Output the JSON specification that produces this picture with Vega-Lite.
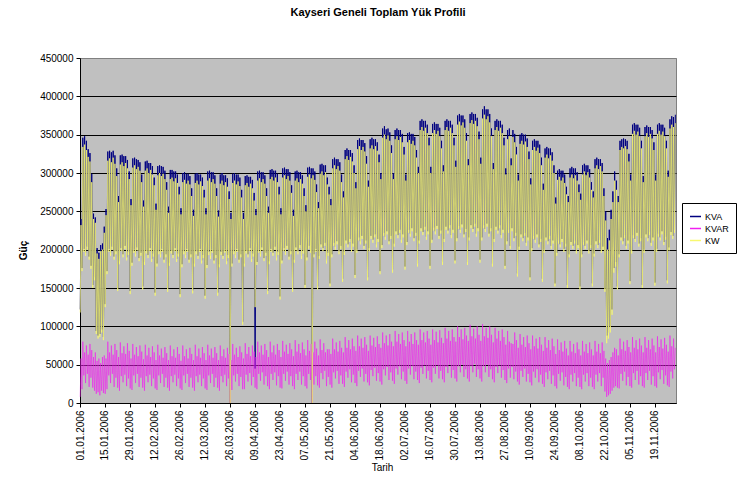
{
"$schema":"https://vega.github.io/schema/vega-lite/v6.json",
"width":596,"height":345,"autosize":"none",
"padding":{"left":80,"top":58,"right":74,"bottom":85},
"background":"white",
"config":{"view":{"fill":"#C0C0C0","stroke":"#808080","strokeWidth":1},"font":"Liberation Sans"},
"title":{"text":"Kayseri Geneli Toplam Yük Profili","fontSize":11,"fontWeight":"bold","font":"Liberation Sans","color":"black","offset":35,"anchor":"middle"},
"data":{"values":[
{"t":"2006-01-01 03:00","a":122000,"r":8000,"w":118000},{"t":"2006-01-01 14:00","a":240000,"r":58000,"w":232000},
{"t":"2006-01-02 03:00","a":176000,"r":18000,"w":172000},{"t":"2006-01-02 14:00","a":346000,"r":80000,"w":334000},
{"t":"2006-01-03 03:00","a":201000,"r":36000,"w":197000},{"t":"2006-01-03 14:00","a":348000,"r":66000,"w":337000},
{"t":"2006-01-04 03:00","a":196000,"r":26000,"w":192000},{"t":"2006-01-04 14:00","a":342000,"r":75000,"w":330000},
{"t":"2006-01-05 03:00","a":204000,"r":38000,"w":200000},{"t":"2006-01-05 14:00","a":331000,"r":63000,"w":321000},
{"t":"2006-01-06 03:00","a":191000,"r":21000,"w":187000},{"t":"2006-01-06 14:00","a":326000,"r":77000,"w":315000},
{"t":"2006-01-07 03:00","a":179000,"r":33000,"w":175000},{"t":"2006-01-07 14:00","a":299000,"r":69000,"w":288000},
{"t":"2006-01-08 03:00","a":154000,"r":20000,"w":150000},{"t":"2006-01-08 14:00","a":247000,"r":60000,"w":240000},
{"t":"2006-01-09 03:00","a":164000,"r":16000,"w":160000},{"t":"2006-01-09 14:00","a":242000,"r":66000,"w":235000},
{"t":"2006-01-10 03:00","a":94000,"r":12000,"w":90000},{"t":"2006-01-10 14:00","a":202000,"r":55000,"w":195000},
{"t":"2006-01-11 03:00","a":88000,"r":14000,"w":84000},{"t":"2006-01-11 14:00","a":196000,"r":58000,"w":188000},
{"t":"2006-01-12 03:00","a":90000,"r":10000,"w":86000},{"t":"2006-01-12 14:00","a":206000,"r":52000,"w":198000},
{"t":"2006-01-13 03:00","a":96000,"r":16000,"w":92000},{"t":"2006-01-13 14:00","a":208000,"r":60000,"w":200000},
{"t":"2006-01-14 03:00","a":86000,"r":13000,"w":82000},{"t":"2006-01-14 14:00","a":230000,"r":62000,"w":222000},
{"t":"2006-01-15 03:00","a":129000,"r":12000,"w":125000},{"t":"2006-01-15 14:00","a":253000,"r":58000,"w":245000},
{"t":"2006-01-16 03:00","a":172000,"r":18000,"w":168000},{"t":"2006-01-16 14:00","a":328000,"r":80000,"w":316000},
{"t":"2006-01-17 03:00","a":201000,"r":36000,"w":197000},{"t":"2006-01-17 14:00","a":329000,"r":66000,"w":319000},
{"t":"2006-01-18 03:00","a":196000,"r":26000,"w":192000},{"t":"2006-01-18 14:00","a":327000,"r":75000,"w":314000},
{"t":"2006-01-19 03:00","a":204000,"r":38000,"w":200000},{"t":"2006-01-19 14:00","a":329000,"r":63000,"w":320000},
{"t":"2006-01-20 03:00","a":191000,"r":21000,"w":187000},{"t":"2006-01-20 14:00","a":323000,"r":77000,"w":312000},
{"t":"2006-01-21 03:00","a":198000,"r":33000,"w":194000},{"t":"2006-01-21 14:00","a":306000,"r":69000,"w":296000},
{"t":"2006-01-22 03:00","a":150000,"r":20000,"w":146000},{"t":"2006-01-22 14:00","a":270000,"r":60000,"w":262000},
{"t":"2006-01-23 03:00","a":185000,"r":16000,"w":181000},{"t":"2006-01-23 14:00","a":323000,"r":79000,"w":311000},
{"t":"2006-01-24 03:00","a":202000,"r":35000,"w":198000},{"t":"2006-01-24 14:00","a":324000,"r":65000,"w":314000},
{"t":"2006-01-25 03:00","a":194000,"r":27000,"w":190000},{"t":"2006-01-25 14:00","a":322000,"r":74000,"w":309000},
{"t":"2006-01-26 03:00","a":205000,"r":37000,"w":201000},{"t":"2006-01-26 14:00","a":322000,"r":64000,"w":313000},
{"t":"2006-01-27 03:00","a":190000,"r":22000,"w":186000},{"t":"2006-01-27 14:00","a":317000,"r":78000,"w":306000},
{"t":"2006-01-28 03:00","a":197000,"r":32000,"w":193000},{"t":"2006-01-28 14:00","a":302000,"r":68000,"w":292000},
{"t":"2006-01-29 03:00","a":146000,"r":19000,"w":142000},{"t":"2006-01-29 14:00","a":266000,"r":58000,"w":258000},
{"t":"2006-01-30 03:00","a":183000,"r":17000,"w":179000},{"t":"2006-01-30 14:00","a":319000,"r":77000,"w":307000},
{"t":"2006-01-31 03:00","a":200000,"r":36000,"w":196000},{"t":"2006-01-31 14:00","a":320000,"r":63000,"w":310000},
{"t":"2006-02-01 03:00","a":195000,"r":26000,"w":191000},{"t":"2006-02-01 14:00","a":318000,"r":73000,"w":305000},
{"t":"2006-02-02 03:00","a":203000,"r":38000,"w":199000},{"t":"2006-02-02 14:00","a":317000,"r":61000,"w":308000},
{"t":"2006-02-03 03:00","a":189000,"r":21000,"w":185000},{"t":"2006-02-03 14:00","a":314000,"r":75000,"w":303000},
{"t":"2006-02-04 03:00","a":196000,"r":33000,"w":192000},{"t":"2006-02-04 14:00","a":298000,"r":67000,"w":288000},
{"t":"2006-02-05 03:00","a":152000,"r":20000,"w":148000},{"t":"2006-02-05 14:00","a":264000,"r":57000,"w":256000},
{"t":"2006-02-06 03:00","a":184000,"r":16000,"w":180000},{"t":"2006-02-06 14:00","a":315000,"r":76000,"w":303000},
{"t":"2006-02-07 03:00","a":199000,"r":35000,"w":195000},{"t":"2006-02-07 14:00","a":316000,"r":62000,"w":306000},
{"t":"2006-02-08 03:00","a":193000,"r":27000,"w":189000},{"t":"2006-02-08 14:00","a":313000,"r":72000,"w":300000},
{"t":"2006-02-09 03:00","a":202000,"r":37000,"w":198000},{"t":"2006-02-09 14:00","a":313000,"r":60000,"w":304000},
{"t":"2006-02-10 03:00","a":188000,"r":22000,"w":184000},{"t":"2006-02-10 14:00","a":309000,"r":74000,"w":298000},
{"t":"2006-02-11 03:00","a":195000,"r":32000,"w":191000},{"t":"2006-02-11 14:00","a":294000,"r":66000,"w":284000},
{"t":"2006-02-12 03:00","a":144000,"r":19000,"w":140000},{"t":"2006-02-12 14:00","a":260000,"r":56000,"w":252000},
{"t":"2006-02-13 03:00","a":182000,"r":17000,"w":178000},{"t":"2006-02-13 14:00","a":309000,"r":76000,"w":297000},
{"t":"2006-02-14 03:00","a":198000,"r":36000,"w":194000},{"t":"2006-02-14 14:00","a":310000,"r":62000,"w":300000},
{"t":"2006-02-15 03:00","a":194000,"r":26000,"w":190000},{"t":"2006-02-15 14:00","a":309000,"r":71000,"w":296000},
{"t":"2006-02-16 03:00","a":201000,"r":38000,"w":197000},{"t":"2006-02-16 14:00","a":308000,"r":59000,"w":299000},
{"t":"2006-02-17 03:00","a":187000,"r":21000,"w":183000},{"t":"2006-02-17 14:00","a":303000,"r":73000,"w":292000},
{"t":"2006-02-18 03:00","a":194000,"r":33000,"w":190000},{"t":"2006-02-18 14:00","a":288000,"r":65000,"w":278000},
{"t":"2006-02-19 03:00","a":149000,"r":20000,"w":145000},{"t":"2006-02-19 14:00","a":256000,"r":56000,"w":248000},
{"t":"2006-02-20 03:00","a":183000,"r":16000,"w":179000},{"t":"2006-02-20 14:00","a":304000,"r":75000,"w":292000},
{"t":"2006-02-21 03:00","a":199000,"r":35000,"w":195000},{"t":"2006-02-21 14:00","a":304000,"r":61000,"w":294000},
{"t":"2006-02-22 03:00","a":193000,"r":27000,"w":189000},{"t":"2006-02-22 14:00","a":302000,"r":70000,"w":289000},
{"t":"2006-02-23 03:00","a":202000,"r":37000,"w":198000},{"t":"2006-02-23 14:00","a":302000,"r":59000,"w":293000},
{"t":"2006-02-24 03:00","a":188000,"r":22000,"w":184000},{"t":"2006-02-24 14:00","a":298000,"r":73000,"w":287000},
{"t":"2006-02-25 03:00","a":195000,"r":32000,"w":191000},{"t":"2006-02-25 14:00","a":282000,"r":64000,"w":272000},
{"t":"2006-02-26 03:00","a":142000,"r":19000,"w":138000},{"t":"2006-02-26 14:00","a":254000,"r":55000,"w":246000},
{"t":"2006-02-27 03:00","a":181000,"r":17000,"w":177000},{"t":"2006-02-27 14:00","a":300000,"r":75000,"w":288000},
{"t":"2006-02-28 03:00","a":198000,"r":36000,"w":194000},{"t":"2006-02-28 14:00","a":301000,"r":61000,"w":291000},
{"t":"2006-03-01 03:00","a":193000,"r":26000,"w":189000},{"t":"2006-03-01 14:00","a":299000,"r":70000,"w":286000},
{"t":"2006-03-02 03:00","a":201000,"r":38000,"w":197000},{"t":"2006-03-02 14:00","a":299000,"r":58000,"w":290000},
{"t":"2006-03-03 03:00","a":187000,"r":21000,"w":183000},{"t":"2006-03-03 14:00","a":296000,"r":72000,"w":285000},
{"t":"2006-03-04 03:00","a":194000,"r":33000,"w":190000},{"t":"2006-03-04 14:00","a":280000,"r":64000,"w":270000},
{"t":"2006-03-05 03:00","a":147000,"r":20000,"w":143000},{"t":"2006-03-05 14:00","a":252000,"r":56000,"w":244000},
{"t":"2006-03-06 03:00","a":182000,"r":16000,"w":178000},{"t":"2006-03-06 14:00","a":299000,"r":76000,"w":287000},
{"t":"2006-03-07 03:00","a":198000,"r":35000,"w":194000},{"t":"2006-03-07 14:00","a":300000,"r":61000,"w":290000},
{"t":"2006-03-08 03:00","a":192000,"r":27000,"w":188000},{"t":"2006-03-08 14:00","a":298000,"r":71000,"w":285000},
{"t":"2006-03-09 03:00","a":201000,"r":37000,"w":197000},{"t":"2006-03-09 14:00","a":298000,"r":59000,"w":289000},
{"t":"2006-03-10 03:00","a":186000,"r":22000,"w":182000},{"t":"2006-03-10 14:00","a":294000,"r":73000,"w":283000},
{"t":"2006-03-11 03:00","a":193000,"r":32000,"w":189000},{"t":"2006-03-11 14:00","a":278000,"r":65000,"w":268000},
{"t":"2006-03-12 03:00","a":140000,"r":19000,"w":136000},{"t":"2006-03-12 14:00","a":254000,"r":56000,"w":246000},
{"t":"2006-03-13 03:00","a":180000,"r":17000,"w":176000},{"t":"2006-03-13 14:00","a":302000,"r":76000,"w":290000},
{"t":"2006-03-14 03:00","a":197000,"r":36000,"w":193000},{"t":"2006-03-14 14:00","a":303000,"r":62000,"w":293000},
{"t":"2006-03-15 03:00","a":192000,"r":26000,"w":188000},{"t":"2006-03-15 14:00","a":301000,"r":71000,"w":288000},
{"t":"2006-03-16 03:00","a":200000,"r":38000,"w":196000},{"t":"2006-03-16 14:00","a":301000,"r":59000,"w":292000},
{"t":"2006-03-17 03:00","a":186000,"r":21000,"w":182000},{"t":"2006-03-17 14:00","a":297000,"r":73000,"w":286000},
{"t":"2006-03-18 03:00","a":193000,"r":33000,"w":189000},{"t":"2006-03-18 14:00","a":280000,"r":65000,"w":270000},
{"t":"2006-03-19 03:00","a":144000,"r":20000,"w":140000},{"t":"2006-03-19 14:00","a":251000,"r":56000,"w":243000},
{"t":"2006-03-20 03:00","a":181000,"r":16000,"w":177000},{"t":"2006-03-20 14:00","a":298000,"r":75000,"w":286000},
{"t":"2006-03-21 03:00","a":197000,"r":35000,"w":193000},{"t":"2006-03-21 14:00","a":300000,"r":61000,"w":290000},
{"t":"2006-03-22 03:00","a":192000,"r":27000,"w":188000},{"t":"2006-03-22 14:00","a":297000,"r":70000,"w":284000},
{"t":"2006-03-23 03:00","a":200000,"r":37000,"w":196000},{"t":"2006-03-23 14:00","a":297000,"r":59000,"w":288000},
{"t":"2006-03-24 03:00","a":185000,"r":22000,"w":181000},{"t":"2006-03-24 14:00","a":293000,"r":72000,"w":282000},
{"t":"2006-03-25 03:00","a":193000,"r":32000,"w":189000},{"t":"2006-03-25 14:00","a":276000,"r":64000,"w":266000},
{"t":"2006-03-26 03:00","a":0,"r":0,"w":0},{"t":"2006-03-26 14:00","a":248000,"r":56000,"w":240000},
{"t":"2006-03-27 03:00","a":182000,"r":17000,"w":178000},{"t":"2006-03-27 14:00","a":299000,"r":77000,"w":287000},
{"t":"2006-03-28 03:00","a":198000,"r":36000,"w":194000},{"t":"2006-03-28 14:00","a":300000,"r":63000,"w":290000},
{"t":"2006-03-29 03:00","a":193000,"r":28000,"w":189000},{"t":"2006-03-29 14:00","a":298000,"r":72000,"w":285000},
{"t":"2006-03-30 03:00","a":201000,"r":38000,"w":197000},{"t":"2006-03-30 14:00","a":298000,"r":60000,"w":289000},
{"t":"2006-03-31 03:00","a":187000,"r":22000,"w":183000},{"t":"2006-03-31 14:00","a":294000,"r":74000,"w":283000},
{"t":"2006-04-01 03:00","a":194000,"r":34000,"w":190000},{"t":"2006-04-01 14:00","a":278000,"r":66000,"w":268000},
{"t":"2006-04-02 03:00","a":106000,"r":18000,"w":102000},{"t":"2006-04-02 14:00","a":248000,"r":58000,"w":240000},
{"t":"2006-04-03 03:00","a":182000,"r":18000,"w":178000},{"t":"2006-04-03 14:00","a":296000,"r":78000,"w":284000},
{"t":"2006-04-04 03:00","a":199000,"r":37000,"w":195000},{"t":"2006-04-04 14:00","a":297000,"r":64000,"w":287000},
{"t":"2006-04-05 03:00","a":194000,"r":28000,"w":190000},{"t":"2006-04-05 14:00","a":295000,"r":73000,"w":282000},
{"t":"2006-04-06 03:00","a":202000,"r":39000,"w":198000},{"t":"2006-04-06 14:00","a":295000,"r":61000,"w":286000},
{"t":"2006-04-07 03:00","a":188000,"r":23000,"w":184000},{"t":"2006-04-07 14:00","a":291000,"r":75000,"w":280000},
{"t":"2006-04-08 03:00","a":195000,"r":34000,"w":191000},{"t":"2006-04-08 14:00","a":274000,"r":67000,"w":264000},
{"t":"2006-04-09 03:00","a":45000,"r":20000,"w":125000},{"t":"2006-04-09 14:00","a":253000,"r":60000,"w":245000},
{"t":"2006-04-10 03:00","a":184000,"r":18000,"w":180000},{"t":"2006-04-10 14:00","a":302000,"r":80000,"w":290000},
{"t":"2006-04-11 03:00","a":200000,"r":38000,"w":196000},{"t":"2006-04-11 14:00","a":303000,"r":66000,"w":293000},
{"t":"2006-04-12 03:00","a":195000,"r":29000,"w":191000},{"t":"2006-04-12 14:00","a":301000,"r":75000,"w":288000},
{"t":"2006-04-13 03:00","a":203000,"r":40000,"w":199000},{"t":"2006-04-13 14:00","a":301000,"r":63000,"w":292000},
{"t":"2006-04-14 03:00","a":189000,"r":24000,"w":185000},{"t":"2006-04-14 14:00","a":297000,"r":77000,"w":286000},
{"t":"2006-04-15 03:00","a":196000,"r":35000,"w":192000},{"t":"2006-04-15 14:00","a":280000,"r":69000,"w":270000},
{"t":"2006-04-16 03:00","a":146000,"r":22000,"w":142000},{"t":"2006-04-16 14:00","a":256000,"r":60000,"w":248000},
{"t":"2006-04-17 03:00","a":185000,"r":18000,"w":181000},{"t":"2006-04-17 14:00","a":304000,"r":80000,"w":292000},
{"t":"2006-04-18 03:00","a":201000,"r":38000,"w":197000},{"t":"2006-04-18 14:00","a":305000,"r":66000,"w":295000},
{"t":"2006-04-19 03:00","a":196000,"r":30000,"w":192000},{"t":"2006-04-19 14:00","a":303000,"r":75000,"w":290000},
{"t":"2006-04-20 03:00","a":204000,"r":40000,"w":200000},{"t":"2006-04-20 14:00","a":303000,"r":63000,"w":294000},
{"t":"2006-04-21 03:00","a":190000,"r":23000,"w":186000},{"t":"2006-04-21 14:00","a":299000,"r":77000,"w":288000},
{"t":"2006-04-22 03:00","a":197000,"r":35000,"w":193000},{"t":"2006-04-22 14:00","a":282000,"r":69000,"w":272000},
{"t":"2006-04-23 03:00","a":139000,"r":20000,"w":135000},{"t":"2006-04-23 14:00","a":254000,"r":60000,"w":246000},
{"t":"2006-04-24 03:00","a":186000,"r":19000,"w":182000},{"t":"2006-04-24 14:00","a":306000,"r":81000,"w":294000},
{"t":"2006-04-25 03:00","a":202000,"r":38000,"w":198000},{"t":"2006-04-25 14:00","a":307000,"r":67000,"w":297000},
{"t":"2006-04-26 03:00","a":197000,"r":29000,"w":193000},{"t":"2006-04-26 14:00","a":305000,"r":76000,"w":292000},
{"t":"2006-04-27 03:00","a":205000,"r":41000,"w":201000},{"t":"2006-04-27 14:00","a":305000,"r":64000,"w":296000},
{"t":"2006-04-28 03:00","a":191000,"r":24000,"w":187000},{"t":"2006-04-28 14:00","a":301000,"r":78000,"w":290000},
{"t":"2006-04-29 03:00","a":198000,"r":35000,"w":194000},{"t":"2006-04-29 14:00","a":284000,"r":70000,"w":274000},
{"t":"2006-04-30 03:00","a":149000,"r":22000,"w":145000},{"t":"2006-04-30 14:00","a":252000,"r":61000,"w":244000},
{"t":"2006-05-01 03:00","a":187000,"r":18000,"w":183000},{"t":"2006-05-01 14:00","a":302000,"r":82000,"w":290000},
{"t":"2006-05-02 03:00","a":203000,"r":38000,"w":199000},{"t":"2006-05-02 14:00","a":303000,"r":67000,"w":293000},
{"t":"2006-05-03 03:00","a":198000,"r":30000,"w":194000},{"t":"2006-05-03 14:00","a":301000,"r":77000,"w":288000},
{"t":"2006-05-04 03:00","a":206000,"r":41000,"w":202000},{"t":"2006-05-04 14:00","a":301000,"r":65000,"w":292000},
{"t":"2006-05-05 03:00","a":192000,"r":24000,"w":188000},{"t":"2006-05-05 14:00","a":297000,"r":79000,"w":286000},
{"t":"2006-05-06 03:00","a":199000,"r":35000,"w":195000},{"t":"2006-05-06 14:00","a":280000,"r":70000,"w":270000},
{"t":"2006-05-07 03:00","a":154000,"r":22000,"w":150000},{"t":"2006-05-07 14:00","a":258000,"r":62000,"w":250000},
{"t":"2006-05-08 03:00","a":190000,"r":19000,"w":186000},{"t":"2006-05-08 14:00","a":307000,"r":82000,"w":295000},
{"t":"2006-05-09 03:00","a":205000,"r":38000,"w":201000},{"t":"2006-05-09 14:00","a":308000,"r":68000,"w":298000},
{"t":"2006-05-10 03:00","a":200000,"r":30000,"w":196000},{"t":"2006-05-10 14:00","a":306000,"r":77000,"w":293000},
{"t":"2006-05-11 03:00","a":0,"r":0,"w":0},{"t":"2006-05-11 14:00","a":306000,"r":66000,"w":297000},
{"t":"2006-05-12 03:00","a":194000,"r":24000,"w":190000},{"t":"2006-05-12 14:00","a":302000,"r":80000,"w":291000},
{"t":"2006-05-13 03:00","a":201000,"r":35000,"w":197000},{"t":"2006-05-13 14:00","a":285000,"r":71000,"w":275000},
{"t":"2006-05-14 03:00","a":152000,"r":23000,"w":148000},{"t":"2006-05-14 14:00","a":262000,"r":62000,"w":254000},
{"t":"2006-05-15 03:00","a":192000,"r":20000,"w":188000},{"t":"2006-05-15 14:00","a":311000,"r":83000,"w":299000},
{"t":"2006-05-16 03:00","a":207000,"r":39000,"w":203000},{"t":"2006-05-16 14:00","a":312000,"r":69000,"w":302000},
{"t":"2006-05-17 03:00","a":202000,"r":31000,"w":198000},{"t":"2006-05-17 14:00","a":310000,"r":78000,"w":297000},
{"t":"2006-05-18 03:00","a":209000,"r":42000,"w":205000},{"t":"2006-05-18 14:00","a":310000,"r":66000,"w":301000},
{"t":"2006-05-19 03:00","a":186000,"r":22000,"w":182000},{"t":"2006-05-19 14:00","a":294000,"r":70000,"w":285000},
{"t":"2006-05-20 03:00","a":196000,"r":34000,"w":192000},{"t":"2006-05-20 14:00","a":282000,"r":70000,"w":272000},
{"t":"2006-05-21 03:00","a":156000,"r":24000,"w":152000},{"t":"2006-05-21 14:00","a":266000,"r":64000,"w":258000},
{"t":"2006-05-22 03:00","a":194000,"r":20000,"w":190000},{"t":"2006-05-22 14:00","a":318000,"r":84000,"w":306000},
{"t":"2006-05-23 03:00","a":209000,"r":40000,"w":205000},{"t":"2006-05-23 14:00","a":320000,"r":70000,"w":310000},
{"t":"2006-05-24 03:00","a":204000,"r":32000,"w":200000},{"t":"2006-05-24 14:00","a":318000,"r":79000,"w":305000},
{"t":"2006-05-25 03:00","a":211000,"r":42000,"w":207000},{"t":"2006-05-25 14:00","a":318000,"r":67000,"w":309000},
{"t":"2006-05-26 03:00","a":198000,"r":25000,"w":194000},{"t":"2006-05-26 14:00","a":314000,"r":81000,"w":303000},
{"t":"2006-05-27 03:00","a":205000,"r":36000,"w":201000},{"t":"2006-05-27 14:00","a":298000,"r":72000,"w":288000},
{"t":"2006-05-28 03:00","a":162000,"r":25000,"w":158000},{"t":"2006-05-28 14:00","a":276000,"r":66000,"w":268000},
{"t":"2006-05-29 03:00","a":197000,"r":21000,"w":193000},{"t":"2006-05-29 14:00","a":330000,"r":86000,"w":318000},
{"t":"2006-05-30 03:00","a":212000,"r":41000,"w":208000},{"t":"2006-05-30 14:00","a":332000,"r":72000,"w":322000},
{"t":"2006-05-31 03:00","a":207000,"r":33000,"w":203000},{"t":"2006-05-31 14:00","a":330000,"r":82000,"w":317000},
{"t":"2006-06-01 03:00","a":214000,"r":44000,"w":210000},{"t":"2006-06-01 14:00","a":330000,"r":70000,"w":321000},
{"t":"2006-06-02 03:00","a":201000,"r":27000,"w":197000},{"t":"2006-06-02 14:00","a":326000,"r":84000,"w":315000},
{"t":"2006-06-03 03:00","a":208000,"r":37000,"w":204000},{"t":"2006-06-03 14:00","a":310000,"r":74000,"w":300000},
{"t":"2006-06-04 03:00","a":167000,"r":26000,"w":163000},{"t":"2006-06-04 14:00","a":288000,"r":68000,"w":280000},
{"t":"2006-06-05 03:00","a":200000,"r":22000,"w":196000},{"t":"2006-06-05 14:00","a":343000,"r":88000,"w":331000},
{"t":"2006-06-06 03:00","a":216000,"r":42000,"w":212000},{"t":"2006-06-06 14:00","a":345000,"r":74000,"w":335000},
{"t":"2006-06-07 03:00","a":211000,"r":34000,"w":207000},{"t":"2006-06-07 14:00","a":343000,"r":84000,"w":330000},
{"t":"2006-06-08 03:00","a":218000,"r":45000,"w":214000},{"t":"2006-06-08 14:00","a":343000,"r":72000,"w":334000},
{"t":"2006-06-09 03:00","a":205000,"r":28000,"w":201000},{"t":"2006-06-09 14:00","a":339000,"r":86000,"w":328000},
{"t":"2006-06-10 03:00","a":212000,"r":38000,"w":208000},{"t":"2006-06-10 14:00","a":322000,"r":76000,"w":312000},
{"t":"2006-06-11 03:00","a":164000,"r":27000,"w":160000},{"t":"2006-06-11 14:00","a":290000,"r":68000,"w":282000},
{"t":"2006-06-12 03:00","a":202000,"r":23000,"w":198000},{"t":"2006-06-12 14:00","a":344000,"r":88000,"w":332000},
{"t":"2006-06-13 03:00","a":218000,"r":43000,"w":214000},{"t":"2006-06-13 14:00","a":346000,"r":75000,"w":336000},
{"t":"2006-06-14 03:00","a":213000,"r":35000,"w":209000},{"t":"2006-06-14 14:00","a":344000,"r":85000,"w":331000},
{"t":"2006-06-15 03:00","a":220000,"r":46000,"w":216000},{"t":"2006-06-15 14:00","a":344000,"r":73000,"w":335000},
{"t":"2006-06-16 03:00","a":207000,"r":29000,"w":203000},{"t":"2006-06-16 14:00","a":340000,"r":87000,"w":329000},
{"t":"2006-06-17 03:00","a":214000,"r":39000,"w":210000},{"t":"2006-06-17 14:00","a":324000,"r":77000,"w":314000},
{"t":"2006-06-18 03:00","a":172000,"r":28000,"w":168000},{"t":"2006-06-18 14:00","a":300000,"r":72000,"w":292000},
{"t":"2006-06-19 03:00","a":206000,"r":24000,"w":202000},{"t":"2006-06-19 14:00","a":358000,"r":92000,"w":346000},
{"t":"2006-06-20 03:00","a":222000,"r":44000,"w":218000},{"t":"2006-06-20 14:00","a":361000,"r":78000,"w":350000},
{"t":"2006-06-21 03:00","a":217000,"r":36000,"w":213000},{"t":"2006-06-21 14:00","a":357000,"r":88000,"w":344000},
{"t":"2006-06-22 03:00","a":224000,"r":47000,"w":220000},{"t":"2006-06-22 14:00","a":358000,"r":75000,"w":349000},
{"t":"2006-06-23 03:00","a":211000,"r":30000,"w":207000},{"t":"2006-06-23 14:00","a":353000,"r":90000,"w":342000},
{"t":"2006-06-24 03:00","a":218000,"r":40000,"w":214000},{"t":"2006-06-24 14:00","a":336000,"r":80000,"w":326000},
{"t":"2006-06-25 03:00","a":174000,"r":29000,"w":170000},{"t":"2006-06-25 14:00","a":300000,"r":74000,"w":292000},
{"t":"2006-06-26 03:00","a":208000,"r":25000,"w":204000},{"t":"2006-06-26 14:00","a":356000,"r":94000,"w":344000},
{"t":"2006-06-27 03:00","a":224000,"r":45000,"w":220000},{"t":"2006-06-27 14:00","a":358000,"r":80000,"w":348000},
{"t":"2006-06-28 03:00","a":219000,"r":37000,"w":215000},{"t":"2006-06-28 14:00","a":356000,"r":90000,"w":343000},
{"t":"2006-06-29 03:00","a":226000,"r":48000,"w":222000},{"t":"2006-06-29 14:00","a":356000,"r":77000,"w":347000},
{"t":"2006-06-30 03:00","a":213000,"r":31000,"w":209000},{"t":"2006-06-30 14:00","a":351000,"r":92000,"w":340000},
{"t":"2006-07-01 03:00","a":220000,"r":41000,"w":216000},{"t":"2006-07-01 14:00","a":334000,"r":82000,"w":324000},
{"t":"2006-07-02 03:00","a":178000,"r":29000,"w":174000},{"t":"2006-07-02 14:00","a":298000,"r":74000,"w":290000},
{"t":"2006-07-03 03:00","a":210000,"r":25000,"w":206000},{"t":"2006-07-03 14:00","a":352000,"r":94000,"w":340000},
{"t":"2006-07-04 03:00","a":226000,"r":45000,"w":222000},{"t":"2006-07-04 14:00","a":353000,"r":80000,"w":343000},
{"t":"2006-07-05 03:00","a":221000,"r":37000,"w":217000},{"t":"2006-07-05 14:00","a":351000,"r":90000,"w":338000},
{"t":"2006-07-06 03:00","a":228000,"r":48000,"w":224000},{"t":"2006-07-06 14:00","a":351000,"r":77000,"w":342000},
{"t":"2006-07-07 03:00","a":215000,"r":31000,"w":211000},{"t":"2006-07-07 14:00","a":347000,"r":92000,"w":336000},
{"t":"2006-07-08 03:00","a":222000,"r":41000,"w":218000},{"t":"2006-07-08 14:00","a":330000,"r":82000,"w":320000},
{"t":"2006-07-09 03:00","a":182000,"r":30000,"w":178000},{"t":"2006-07-09 14:00","a":308000,"r":76000,"w":300000},
{"t":"2006-07-10 03:00","a":212000,"r":26000,"w":208000},{"t":"2006-07-10 14:00","a":368000,"r":96000,"w":356000},
{"t":"2006-07-11 03:00","a":228000,"r":46000,"w":224000},{"t":"2006-07-11 14:00","a":370000,"r":82000,"w":360000},
{"t":"2006-07-12 03:00","a":223000,"r":38000,"w":219000},{"t":"2006-07-12 14:00","a":368000,"r":92000,"w":355000},
{"t":"2006-07-13 03:00","a":230000,"r":49000,"w":226000},{"t":"2006-07-13 14:00","a":368000,"r":79000,"w":359000},
{"t":"2006-07-14 03:00","a":217000,"r":32000,"w":213000},{"t":"2006-07-14 14:00","a":363000,"r":94000,"w":352000},
{"t":"2006-07-15 03:00","a":224000,"r":42000,"w":220000},{"t":"2006-07-15 14:00","a":346000,"r":84000,"w":336000},
{"t":"2006-07-16 03:00","a":179000,"r":30000,"w":175000},{"t":"2006-07-16 14:00","a":308000,"r":76000,"w":300000},
{"t":"2006-07-17 03:00","a":213000,"r":27000,"w":209000},{"t":"2006-07-17 14:00","a":364000,"r":96000,"w":352000},
{"t":"2006-07-18 03:00","a":229000,"r":46000,"w":225000},{"t":"2006-07-18 14:00","a":366000,"r":82000,"w":356000},
{"t":"2006-07-19 03:00","a":224000,"r":38000,"w":220000},{"t":"2006-07-19 14:00","a":364000,"r":93000,"w":351000},
{"t":"2006-07-20 03:00","a":231000,"r":49000,"w":227000},{"t":"2006-07-20 14:00","a":364000,"r":79000,"w":355000},
{"t":"2006-07-21 03:00","a":218000,"r":32000,"w":214000},{"t":"2006-07-21 14:00","a":359000,"r":95000,"w":348000},
{"t":"2006-07-22 03:00","a":225000,"r":42000,"w":221000},{"t":"2006-07-22 14:00","a":342000,"r":85000,"w":332000},
{"t":"2006-07-23 03:00","a":184000,"r":31000,"w":180000},{"t":"2006-07-23 14:00","a":310000,"r":78000,"w":302000},
{"t":"2006-07-24 03:00","a":214000,"r":27000,"w":210000},{"t":"2006-07-24 14:00","a":368000,"r":98000,"w":356000},
{"t":"2006-07-25 03:00","a":230000,"r":47000,"w":226000},{"t":"2006-07-25 14:00","a":370000,"r":84000,"w":360000},
{"t":"2006-07-26 03:00","a":225000,"r":39000,"w":221000},{"t":"2006-07-26 14:00","a":368000,"r":94000,"w":355000},
{"t":"2006-07-27 03:00","a":232000,"r":50000,"w":228000},{"t":"2006-07-27 14:00","a":368000,"r":81000,"w":359000},
{"t":"2006-07-28 03:00","a":219000,"r":33000,"w":215000},{"t":"2006-07-28 14:00","a":363000,"r":96000,"w":352000},
{"t":"2006-07-29 03:00","a":226000,"r":43000,"w":222000},{"t":"2006-07-29 14:00","a":346000,"r":86000,"w":336000},
{"t":"2006-07-30 03:00","a":186000,"r":32000,"w":182000},{"t":"2006-07-30 14:00","a":316000,"r":80000,"w":308000},
{"t":"2006-07-31 03:00","a":215000,"r":28000,"w":211000},{"t":"2006-07-31 14:00","a":375000,"r":100000,"w":363000},
{"t":"2006-08-01 03:00","a":231000,"r":48000,"w":227000},{"t":"2006-08-01 14:00","a":377000,"r":86000,"w":367000},
{"t":"2006-08-02 03:00","a":226000,"r":40000,"w":222000},{"t":"2006-08-02 14:00","a":375000,"r":96000,"w":362000},
{"t":"2006-08-03 03:00","a":233000,"r":50000,"w":229000},{"t":"2006-08-03 14:00","a":375000,"r":83000,"w":366000},
{"t":"2006-08-04 03:00","a":220000,"r":34000,"w":216000},{"t":"2006-08-04 14:00","a":370000,"r":98000,"w":359000},
{"t":"2006-08-05 03:00","a":227000,"r":44000,"w":223000},{"t":"2006-08-05 14:00","a":352000,"r":88000,"w":342000},
{"t":"2006-08-06 03:00","a":184000,"r":32000,"w":180000},{"t":"2006-08-06 14:00","a":318000,"r":81000,"w":310000},
{"t":"2006-08-07 03:00","a":216000,"r":28000,"w":212000},{"t":"2006-08-07 14:00","a":377000,"r":102000,"w":365000},
{"t":"2006-08-08 03:00","a":232000,"r":48000,"w":228000},{"t":"2006-08-08 14:00","a":379000,"r":87000,"w":369000},
{"t":"2006-08-09 03:00","a":227000,"r":40000,"w":223000},{"t":"2006-08-09 14:00","a":377000,"r":97000,"w":364000},
{"t":"2006-08-10 03:00","a":234000,"r":51000,"w":230000},{"t":"2006-08-10 14:00","a":377000,"r":84000,"w":368000},
{"t":"2006-08-11 03:00","a":221000,"r":34000,"w":217000},{"t":"2006-08-11 14:00","a":372000,"r":100000,"w":361000},
{"t":"2006-08-12 03:00","a":228000,"r":44000,"w":224000},{"t":"2006-08-12 14:00","a":354000,"r":89000,"w":344000},
{"t":"2006-08-13 03:00","a":187000,"r":32000,"w":183000},{"t":"2006-08-13 14:00","a":320000,"r":81000,"w":312000},
{"t":"2006-08-14 03:00","a":216000,"r":28000,"w":212000},{"t":"2006-08-14 14:00","a":383000,"r":103000,"w":371000},
{"t":"2006-08-15 03:00","a":232000,"r":48000,"w":228000},{"t":"2006-08-15 14:00","a":387000,"r":87000,"w":376000},
{"t":"2006-08-16 03:00","a":227000,"r":40000,"w":223000},{"t":"2006-08-16 14:00","a":383000,"r":98000,"w":370000},
{"t":"2006-08-17 03:00","a":234000,"r":50000,"w":230000},{"t":"2006-08-17 14:00","a":383000,"r":85000,"w":374000},
{"t":"2006-08-18 03:00","a":221000,"r":34000,"w":217000},{"t":"2006-08-18 14:00","a":377000,"r":100000,"w":366000},
{"t":"2006-08-19 03:00","a":228000,"r":44000,"w":224000},{"t":"2006-08-19 14:00","a":358000,"r":89000,"w":348000},
{"t":"2006-08-20 03:00","a":182000,"r":31000,"w":178000},{"t":"2006-08-20 14:00","a":313000,"r":79000,"w":305000},
{"t":"2006-08-21 03:00","a":214000,"r":27000,"w":210000},{"t":"2006-08-21 14:00","a":368000,"r":98000,"w":356000},
{"t":"2006-08-22 03:00","a":230000,"r":47000,"w":226000},{"t":"2006-08-22 14:00","a":370000,"r":84000,"w":360000},
{"t":"2006-08-23 03:00","a":225000,"r":39000,"w":221000},{"t":"2006-08-23 14:00","a":368000,"r":94000,"w":355000},
{"t":"2006-08-24 03:00","a":232000,"r":49000,"w":228000},{"t":"2006-08-24 14:00","a":368000,"r":81000,"w":359000},
{"t":"2006-08-25 03:00","a":219000,"r":33000,"w":215000},{"t":"2006-08-25 14:00","a":363000,"r":96000,"w":352000},
{"t":"2006-08-26 03:00","a":226000,"r":43000,"w":222000},{"t":"2006-08-26 14:00","a":346000,"r":86000,"w":336000},
{"t":"2006-08-27 03:00","a":179000,"r":30000,"w":175000},{"t":"2006-08-27 14:00","a":306000,"r":76000,"w":298000},
{"t":"2006-08-28 03:00","a":211000,"r":26000,"w":207000},{"t":"2006-08-28 14:00","a":356000,"r":94000,"w":344000},
{"t":"2006-08-29 03:00","a":226000,"r":45000,"w":222000},{"t":"2006-08-29 14:00","a":358000,"r":80000,"w":348000},
{"t":"2006-08-30 03:00","a":205000,"r":33000,"w":201000},{"t":"2006-08-30 14:00","a":319000,"r":78000,"w":310000},
{"t":"2006-08-31 03:00","a":228000,"r":47000,"w":224000},{"t":"2006-08-31 14:00","a":356000,"r":77000,"w":347000},
{"t":"2006-09-01 03:00","a":215000,"r":31000,"w":211000},{"t":"2006-09-01 14:00","a":351000,"r":92000,"w":340000},
{"t":"2006-09-02 03:00","a":222000,"r":41000,"w":218000},{"t":"2006-09-02 14:00","a":334000,"r":82000,"w":324000},
{"t":"2006-09-03 03:00","a":169000,"r":28000,"w":165000},{"t":"2006-09-03 14:00","a":298000,"r":72000,"w":290000},
{"t":"2006-09-04 03:00","a":204000,"r":24000,"w":200000},{"t":"2006-09-04 14:00","a":350000,"r":90000,"w":338000},
{"t":"2006-09-05 03:00","a":220000,"r":42000,"w":216000},{"t":"2006-09-05 14:00","a":352000,"r":76000,"w":342000},
{"t":"2006-09-06 03:00","a":215000,"r":34000,"w":211000},{"t":"2006-09-06 14:00","a":350000,"r":86000,"w":337000},
{"t":"2006-09-07 03:00","a":222000,"r":45000,"w":218000},{"t":"2006-09-07 14:00","a":350000,"r":73000,"w":341000},
{"t":"2006-09-08 03:00","a":209000,"r":28000,"w":205000},{"t":"2006-09-08 14:00","a":345000,"r":88000,"w":334000},
{"t":"2006-09-09 03:00","a":216000,"r":38000,"w":212000},{"t":"2006-09-09 14:00","a":328000,"r":78000,"w":318000},
{"t":"2006-09-10 03:00","a":164000,"r":27000,"w":160000},{"t":"2006-09-10 14:00","a":293000,"r":70000,"w":285000},
{"t":"2006-09-11 03:00","a":202000,"r":23000,"w":198000},{"t":"2006-09-11 14:00","a":342000,"r":88000,"w":330000},
{"t":"2006-09-12 03:00","a":218000,"r":41000,"w":214000},{"t":"2006-09-12 14:00","a":344000,"r":74000,"w":334000},
{"t":"2006-09-13 03:00","a":213000,"r":33000,"w":209000},{"t":"2006-09-13 14:00","a":342000,"r":84000,"w":329000},
{"t":"2006-09-14 03:00","a":220000,"r":44000,"w":216000},{"t":"2006-09-14 14:00","a":342000,"r":71000,"w":333000},
{"t":"2006-09-15 03:00","a":207000,"r":27000,"w":203000},{"t":"2006-09-15 14:00","a":337000,"r":86000,"w":326000},
{"t":"2006-09-16 03:00","a":214000,"r":37000,"w":210000},{"t":"2006-09-16 14:00","a":320000,"r":76000,"w":310000},
{"t":"2006-09-17 03:00","a":162000,"r":25000,"w":158000},{"t":"2006-09-17 14:00","a":286000,"r":68000,"w":278000},
{"t":"2006-09-18 03:00","a":200000,"r":21000,"w":196000},{"t":"2006-09-18 14:00","a":332000,"r":86000,"w":320000},
{"t":"2006-09-19 03:00","a":216000,"r":40000,"w":212000},{"t":"2006-09-19 14:00","a":334000,"r":72000,"w":324000},
{"t":"2006-09-20 03:00","a":211000,"r":31000,"w":207000},{"t":"2006-09-20 14:00","a":332000,"r":82000,"w":319000},
{"t":"2006-09-21 03:00","a":218000,"r":42000,"w":214000},{"t":"2006-09-21 14:00","a":332000,"r":69000,"w":323000},
{"t":"2006-09-22 03:00","a":205000,"r":25000,"w":201000},{"t":"2006-09-22 14:00","a":327000,"r":84000,"w":316000},
{"t":"2006-09-23 03:00","a":212000,"r":36000,"w":208000},{"t":"2006-09-23 14:00","a":310000,"r":74000,"w":300000},
{"t":"2006-09-24 03:00","a":156000,"r":22000,"w":152000},{"t":"2006-09-24 14:00","a":268000,"r":64000,"w":260000},
{"t":"2006-09-25 03:00","a":196000,"r":19000,"w":192000},{"t":"2006-09-25 14:00","a":303000,"r":83000,"w":291000},
{"t":"2006-09-26 03:00","a":212000,"r":38000,"w":208000},{"t":"2006-09-26 14:00","a":305000,"r":69000,"w":295000},
{"t":"2006-09-27 03:00","a":207000,"r":29000,"w":203000},{"t":"2006-09-27 14:00","a":303000,"r":79000,"w":290000},
{"t":"2006-09-28 03:00","a":214000,"r":40000,"w":210000},{"t":"2006-09-28 14:00","a":303000,"r":67000,"w":294000},
{"t":"2006-09-29 03:00","a":201000,"r":23000,"w":197000},{"t":"2006-09-29 14:00","a":298000,"r":81000,"w":287000},
{"t":"2006-09-30 03:00","a":208000,"r":34000,"w":204000},{"t":"2006-09-30 14:00","a":282000,"r":71000,"w":272000},
{"t":"2006-10-01 03:00","a":154000,"r":21000,"w":150000},{"t":"2006-10-01 14:00","a":270000,"r":62000,"w":262000},
{"t":"2006-10-02 03:00","a":194000,"r":18000,"w":190000},{"t":"2006-10-02 14:00","a":306000,"r":81000,"w":294000},
{"t":"2006-10-03 03:00","a":210000,"r":37000,"w":206000},{"t":"2006-10-03 14:00","a":308000,"r":67000,"w":298000},
{"t":"2006-10-04 03:00","a":205000,"r":28000,"w":201000},{"t":"2006-10-04 14:00","a":306000,"r":77000,"w":293000},
{"t":"2006-10-05 03:00","a":212000,"r":39000,"w":208000},{"t":"2006-10-05 14:00","a":306000,"r":65000,"w":297000},
{"t":"2006-10-06 03:00","a":199000,"r":22000,"w":195000},{"t":"2006-10-06 14:00","a":301000,"r":79000,"w":290000},
{"t":"2006-10-07 03:00","a":206000,"r":33000,"w":202000},{"t":"2006-10-07 14:00","a":285000,"r":70000,"w":275000},
{"t":"2006-10-08 03:00","a":152000,"r":21000,"w":148000},{"t":"2006-10-08 14:00","a":273000,"r":62000,"w":265000},
{"t":"2006-10-09 03:00","a":194000,"r":18000,"w":190000},{"t":"2006-10-09 14:00","a":310000,"r":81000,"w":298000},
{"t":"2006-10-10 03:00","a":210000,"r":37000,"w":206000},{"t":"2006-10-10 14:00","a":312000,"r":67000,"w":302000},
{"t":"2006-10-11 03:00","a":205000,"r":28000,"w":201000},{"t":"2006-10-11 14:00","a":310000,"r":77000,"w":297000},
{"t":"2006-10-12 03:00","a":212000,"r":39000,"w":208000},{"t":"2006-10-12 14:00","a":310000,"r":65000,"w":301000},
{"t":"2006-10-13 03:00","a":199000,"r":22000,"w":195000},{"t":"2006-10-13 14:00","a":305000,"r":79000,"w":294000},
{"t":"2006-10-14 03:00","a":206000,"r":33000,"w":202000},{"t":"2006-10-14 14:00","a":288000,"r":70000,"w":278000},
{"t":"2006-10-15 03:00","a":156000,"r":21000,"w":152000},{"t":"2006-10-15 14:00","a":276000,"r":62000,"w":268000},
{"t":"2006-10-16 03:00","a":195000,"r":18000,"w":191000},{"t":"2006-10-16 14:00","a":318000,"r":81000,"w":306000},
{"t":"2006-10-17 03:00","a":211000,"r":37000,"w":207000},{"t":"2006-10-17 14:00","a":320000,"r":67000,"w":310000},
{"t":"2006-10-18 03:00","a":206000,"r":28000,"w":202000},{"t":"2006-10-18 14:00","a":318000,"r":77000,"w":305000},
{"t":"2006-10-19 03:00","a":213000,"r":39000,"w":209000},{"t":"2006-10-19 14:00","a":318000,"r":65000,"w":309000},
{"t":"2006-10-20 03:00","a":200000,"r":22000,"w":196000},{"t":"2006-10-20 14:00","a":313000,"r":79000,"w":302000},
{"t":"2006-10-21 03:00","a":204000,"r":33000,"w":200000},{"t":"2006-10-21 14:00","a":280000,"r":68000,"w":270000},
{"t":"2006-10-22 03:00","a":150000,"r":15000,"w":145000},{"t":"2006-10-22 14:00","a":250000,"r":58000,"w":238000},
{"t":"2006-10-23 03:00","a":88000,"r":8000,"w":78000},{"t":"2006-10-23 14:00","a":215000,"r":52000,"w":200000},
{"t":"2006-10-24 03:00","a":92000,"r":10000,"w":84000},{"t":"2006-10-24 14:00","a":226000,"r":56000,"w":212000},
{"t":"2006-10-25 03:00","a":100000,"r":12000,"w":92000},{"t":"2006-10-25 14:00","a":252000,"r":60000,"w":240000},
{"t":"2006-10-26 03:00","a":122000,"r":16000,"w":115000},{"t":"2006-10-26 14:00","a":276000,"r":66000,"w":262000},
{"t":"2006-10-27 03:00","a":176000,"r":20000,"w":170000},{"t":"2006-10-27 14:00","a":302000,"r":72000,"w":290000},
{"t":"2006-10-28 03:00","a":184000,"r":22000,"w":178000},{"t":"2006-10-28 14:00","a":290000,"r":70000,"w":278000},
{"t":"2006-10-29 03:00","a":152000,"r":20000,"w":148000},{"t":"2006-10-29 14:00","a":270000,"r":62000,"w":262000},
{"t":"2006-10-30 03:00","a":194000,"r":19000,"w":190000},{"t":"2006-10-30 14:00","a":342000,"r":84000,"w":330000},
{"t":"2006-10-31 03:00","a":216000,"r":38000,"w":212000},{"t":"2006-10-31 14:00","a":344000,"r":70000,"w":334000},
{"t":"2006-11-01 03:00","a":211000,"r":29000,"w":207000},{"t":"2006-11-01 14:00","a":345000,"r":80000,"w":332000},
{"t":"2006-11-02 03:00","a":219000,"r":41000,"w":215000},{"t":"2006-11-02 14:00","a":344000,"r":68000,"w":335000},
{"t":"2006-11-03 03:00","a":205000,"r":23000,"w":201000},{"t":"2006-11-03 14:00","a":342000,"r":82000,"w":331000},
{"t":"2006-11-04 03:00","a":212000,"r":34000,"w":208000},{"t":"2006-11-04 14:00","a":325000,"r":73000,"w":315000},
{"t":"2006-11-05 03:00","a":159000,"r":22000,"w":155000},{"t":"2006-11-05 14:00","a":298000,"r":66000,"w":290000},
{"t":"2006-11-06 03:00","a":199000,"r":20000,"w":195000},{"t":"2006-11-06 14:00","a":363000,"r":86000,"w":351000},
{"t":"2006-11-07 03:00","a":219000,"r":39000,"w":215000},{"t":"2006-11-07 14:00","a":365000,"r":72000,"w":355000},
{"t":"2006-11-08 03:00","a":214000,"r":30000,"w":210000},{"t":"2006-11-08 14:00","a":363000,"r":82000,"w":350000},
{"t":"2006-11-09 03:00","a":222000,"r":42000,"w":218000},{"t":"2006-11-09 14:00","a":363000,"r":70000,"w":354000},
{"t":"2006-11-10 03:00","a":208000,"r":24000,"w":204000},{"t":"2006-11-10 14:00","a":359000,"r":84000,"w":348000},
{"t":"2006-11-11 03:00","a":215000,"r":35000,"w":211000},{"t":"2006-11-11 14:00","a":342000,"r":75000,"w":332000},
{"t":"2006-11-12 03:00","a":154000,"r":22000,"w":150000},{"t":"2006-11-12 14:00","a":296000,"r":66000,"w":288000},
{"t":"2006-11-13 03:00","a":200000,"r":20000,"w":196000},{"t":"2006-11-13 14:00","a":360000,"r":86000,"w":348000},
{"t":"2006-11-14 03:00","a":220000,"r":39000,"w":216000},{"t":"2006-11-14 14:00","a":362000,"r":72000,"w":352000},
{"t":"2006-11-15 03:00","a":215000,"r":30000,"w":211000},{"t":"2006-11-15 14:00","a":360000,"r":82000,"w":347000},
{"t":"2006-11-16 03:00","a":223000,"r":42000,"w":219000},{"t":"2006-11-16 14:00","a":360000,"r":70000,"w":351000},
{"t":"2006-11-17 03:00","a":209000,"r":24000,"w":205000},{"t":"2006-11-17 14:00","a":356000,"r":84000,"w":345000},
{"t":"2006-11-18 03:00","a":216000,"r":35000,"w":212000},{"t":"2006-11-18 14:00","a":340000,"r":75000,"w":330000},
{"t":"2006-11-19 03:00","a":157000,"r":22000,"w":153000},{"t":"2006-11-19 14:00","a":298000,"r":66000,"w":290000},
{"t":"2006-11-20 03:00","a":201000,"r":20000,"w":197000},{"t":"2006-11-20 14:00","a":363000,"r":87000,"w":351000},
{"t":"2006-11-21 03:00","a":221000,"r":40000,"w":217000},{"t":"2006-11-21 14:00","a":365000,"r":73000,"w":355000},
{"t":"2006-11-22 03:00","a":216000,"r":31000,"w":212000},{"t":"2006-11-22 14:00","a":363000,"r":83000,"w":350000},
{"t":"2006-11-23 03:00","a":224000,"r":43000,"w":220000},{"t":"2006-11-23 14:00","a":363000,"r":71000,"w":354000},
{"t":"2006-11-24 03:00","a":210000,"r":25000,"w":206000},{"t":"2006-11-24 14:00","a":359000,"r":85000,"w":348000},
{"t":"2006-11-25 03:00","a":217000,"r":36000,"w":213000},{"t":"2006-11-25 14:00","a":342000,"r":76000,"w":332000},
{"t":"2006-11-26 03:00","a":160000,"r":23000,"w":156000},{"t":"2006-11-26 14:00","a":303000,"r":67000,"w":295000},
{"t":"2006-11-27 03:00","a":203000,"r":21000,"w":199000},{"t":"2006-11-27 14:00","a":370000,"r":88000,"w":358000},
{"t":"2006-11-28 03:00","a":223000,"r":41000,"w":219000},{"t":"2006-11-28 14:00","a":374000,"r":74000,"w":363000},
{"t":"2006-11-29 03:00","a":218000,"r":32000,"w":214000},{"t":"2006-11-29 14:00","a":373000,"r":84000,"w":360000},
{"t":"2006-11-30 03:00","a":226000,"r":44000,"w":222000},{"t":"2006-11-30 14:00","a":376000,"r":72000,"w":365000}
]},
"transform":[{"fold":["a","r","w"],"as":["k","v"]}],
"encoding":{
 "x":{"field":"t","type":"temporal",
 "scale":{"domain":[{"year":2006,"month":1,"date":1},{"year":2006,"month":11,"date":30,"hours":23}]},
 "axis":{"values":[{"year":2006,"month":1,"date":1},{"year":2006,"month":1,"date":15},{"year":2006,"month":1,"date":29},{"year":2006,"month":2,"date":12},{"year":2006,"month":2,"date":26},{"year":2006,"month":3,"date":12},{"year":2006,"month":3,"date":26},{"year":2006,"month":4,"date":9},{"year":2006,"month":4,"date":23},{"year":2006,"month":5,"date":7},{"year":2006,"month":5,"date":21},{"year":2006,"month":6,"date":4},{"year":2006,"month":6,"date":18},{"year":2006,"month":7,"date":2},{"year":2006,"month":7,"date":16},{"year":2006,"month":7,"date":30},{"year":2006,"month":8,"date":13},{"year":2006,"month":8,"date":27},{"year":2006,"month":9,"date":10},{"year":2006,"month":9,"date":24},{"year":2006,"month":10,"date":8},{"year":2006,"month":10,"date":22},{"year":2006,"month":11,"date":5},{"year":2006,"month":11,"date":19}],
  "format":"%d.%m.%Y","labelAngle":-90,"labelFontSize":10,"labelColor":"black","labelOverlap":false,"labelBound":false,"labelPadding":3,
  "tickColor":"black","tickSize":4,"domainColor":"black","grid":false,
  "title":"Tarih","titleFontSize":10,"titleFontWeight":"normal","titleColor":"black","titleX":302,"titleY":64,"titleBaseline":"middle"}},
 "y":{"field":"v","type":"quantitative","scale":{"domain":[0,450000],"nice":false},
   "axis":{"values":[0,50000,100000,150000,200000,250000,300000,350000,400000,450000],"format":"d","labelOverlap":false,"labelFontSize":10,"labelColor":"black","labelPadding":3,"tickColor":"black","tickSize":4,"domainColor":"black",
    "grid":true,"gridColor":{"condition":{"test":"datum.value === 450000","value":"#808080"},"value":"black"},"gridOpacity":1,"gridWidth":1,
    "title":"Güç","titleFontSize":10,"titleFontWeight":"bold","titleColor":"black","titleX":-57,"titleY":192,"titleBaseline":"middle","titleAlign":"center"}}},
"layer":[
{"transform":[{"filter":"datum.k === 'a'"}],
 "mark":{"type":"line","strokeWidth":1},
 "encoding":{"color":{"datum":"KVA","type":"nominal","scale":{"domain":["KVA","KVAR","KW"],"range":["#000080","#F020F0","#F8F870"]},
   "legend":{"title":null,"orient":"none","legendX":602,"legendY":145,"padding":7,"strokeColor":"black","fillColor":"white","symbolType":"stroke","symbolSize":121,"symbolStrokeWidth":1.5,"labelFontSize":9,"labelColor":"black","rowPadding":0,"labelOffset":3,"labelExpr":"datum.label + '\u00a0\u00a0\u00a0\u00a0\u00a0\u00a0'"}}}},
{"transform":[{"filter":"datum.k === 'r'"}],
 "mark":{"type":"line","strokeWidth":0.6},
 "encoding":{"color":{"datum":"KVAR","type":"nominal"}}},
{"transform":[{"filter":"datum.k === 'w'"}],
 "mark":{"type":"line","strokeWidth":0.8},
 "encoding":{"color":{"datum":"KW","type":"nominal"}}}
]
}
